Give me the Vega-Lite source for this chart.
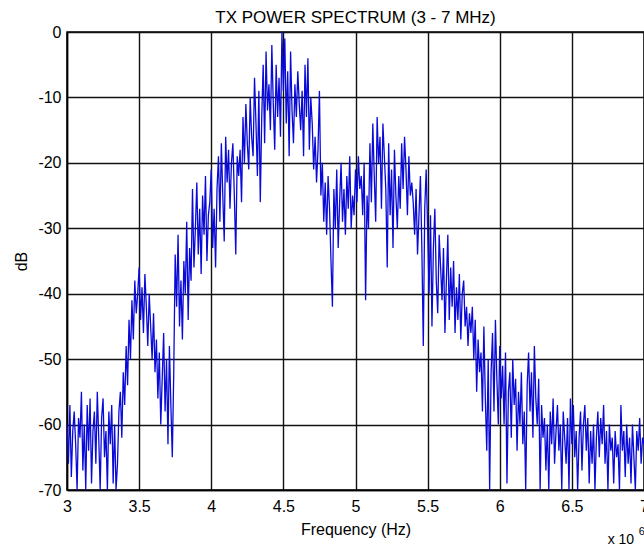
{
  "$schema": "https://vega.github.io/schema/vega-lite/v6.json",
  "width": 577,
  "height": 458,
  "autosize": {"type": "none"},
  "padding": {"left": 67, "top": 32, "right": 0, "bottom": 56},
  "background": "white",
  "title": {"text": "TX POWER SPECTRUM (3 - 7 MHz)", "font": "Liberation Sans", "fontSize": 17, "fontWeight": "normal", "color": "black", "anchor": "middle", "offset": -3},
  "config": {
    "view": {"stroke": "black", "strokeWidth": 1.5},
    "axis": {"labelFont": "Liberation Sans", "titleFont": "Liberation Sans", "labelFontSize": 16, "titleFontSize": 16, "labelColor": "black", "titleColor": "black", "titleFontWeight": "normal", "gridColor": "#111", "gridWidth": 1.4, "gridOpacity": 1, "domainColor": "black", "domainWidth": 1.5, "ticks": false, "labelFlush": false, "labelOverlap": false}
  },
  "layer": [
    {
      "data": {"values": [
{"f":3.00,"d":-60},{"f":3.01,"d":-66},{"f":3.02,"d":-57},{"f":3.03,"d":-68},{"f":3.04,"d":-61},{"f":3.05,"d":-58},{"f":3.06,"d":-63},{"f":3.07,"d":-70},{"f":3.08,"d":-59},{"f":3.09,"d":-62},
{"f":3.10,"d":-55},{"f":3.11,"d":-67},{"f":3.12,"d":-60},{"f":3.13,"d":-70},{"f":3.14,"d":-57},{"f":3.15,"d":-64},{"f":3.16,"d":-56},{"f":3.17,"d":-69},{"f":3.18,"d":-61},{"f":3.19,"d":-58},
{"f":3.20,"d":-66},{"f":3.21,"d":-55},{"f":3.22,"d":-62},{"f":3.23,"d":-70},{"f":3.24,"d":-59},{"f":3.25,"d":-56},{"f":3.26,"d":-65},{"f":3.27,"d":-61},{"f":3.28,"d":-70},{"f":3.29,"d":-58},
{"f":3.30,"d":-63},{"f":3.31,"d":-57},{"f":3.32,"d":-69},{"f":3.33,"d":-60},{"f":3.34,"d":-70},{"f":3.35,"d":-66},{"f":3.36,"d":-58},{"f":3.37,"d":-55},{"f":3.38,"d":-62},{"f":3.39,"d":-52},
{"f":3.40,"d":-57},{"f":3.41,"d":-48},{"f":3.42,"d":-54},{"f":3.43,"d":-44},{"f":3.44,"d":-50},{"f":3.45,"d":-41},{"f":3.46,"d":-47},{"f":3.47,"d":-38},{"f":3.48,"d":-43},{"f":3.49,"d":-40},
{"f":3.50,"d":-36},{"f":3.51,"d":-44},{"f":3.52,"d":-39},{"f":3.53,"d":-46},{"f":3.54,"d":-37},{"f":3.55,"d":-42},{"f":3.56,"d":-48},{"f":3.57,"d":-40},{"f":3.58,"d":-45},{"f":3.59,"d":-50},
{"f":3.60,"d":-43},{"f":3.61,"d":-52},{"f":3.62,"d":-47},{"f":3.63,"d":-56},{"f":3.64,"d":-49},{"f":3.65,"d":-60},{"f":3.66,"d":-53},{"f":3.67,"d":-46},{"f":3.68,"d":-58},{"f":3.69,"d":-50},
{"f":3.70,"d":-63},{"f":3.71,"d":-48},{"f":3.72,"d":-57},{"f":3.73,"d":-65},{"f":3.74,"d":-52},{"f":3.75,"d":-34},{"f":3.76,"d":-42},{"f":3.77,"d":-31},{"f":3.78,"d":-45},{"f":3.79,"d":-38},
{"f":3.80,"d":-47},{"f":3.81,"d":-35},{"f":3.82,"d":-40},{"f":3.83,"d":-29},{"f":3.84,"d":-44},{"f":3.85,"d":-33},{"f":3.86,"d":-38},{"f":3.87,"d":-24},{"f":3.88,"d":-36},{"f":3.89,"d":-30},
{"f":3.90,"d":-23},{"f":3.91,"d":-34},{"f":3.92,"d":-27},{"f":3.93,"d":-37},{"f":3.94,"d":-25},{"f":3.95,"d":-31},{"f":3.96,"d":-22},{"f":3.97,"d":-35},{"f":3.98,"d":-28},{"f":3.99,"d":-26},
{"f":4.00,"d":-21},{"f":4.01,"d":-33},{"f":4.02,"d":-27},{"f":4.03,"d":-36},{"f":4.04,"d":-24},{"f":4.05,"d":-19},{"f":4.06,"d":-29},{"f":4.07,"d":-17},{"f":4.08,"d":-25},{"f":4.09,"d":-32},
{"f":4.10,"d":-16},{"f":4.11,"d":-23},{"f":4.12,"d":-18},{"f":4.13,"d":-27},{"f":4.14,"d":-20},{"f":4.15,"d":-17},{"f":4.16,"d":-25},{"f":4.17,"d":-34},{"f":4.18,"d":-19},{"f":4.19,"d":-22},
{"f":4.20,"d":-18},{"f":4.21,"d":-26},{"f":4.22,"d":-13},{"f":4.23,"d":-20},{"f":4.24,"d":-11},{"f":4.25,"d":-17},{"f":4.26,"d":-21},{"f":4.27,"d":-10},{"f":4.28,"d":-16},{"f":4.29,"d":-19},
{"f":4.30,"d":-7},{"f":4.31,"d":-14},{"f":4.32,"d":-22},{"f":4.33,"d":-9},{"f":4.34,"d":-26},{"f":4.35,"d":-13},{"f":4.36,"d":-5},{"f":4.37,"d":-17},{"f":4.38,"d":-3},{"f":4.39,"d":-12},
{"f":4.40,"d":-8},{"f":4.41,"d":-15},{"f":4.42,"d":-2},{"f":4.43,"d":-11},{"f":4.44,"d":-18},{"f":4.45,"d":-5},{"f":4.46,"d":-13},{"f":4.47,"d":-7},{"f":4.48,"d":-16},{"f":4.49,"d":0},
{"f":4.50,"d":-9},{"f":4.51,"d":-1},{"f":4.52,"d":-14},{"f":4.53,"d":-6},{"f":4.54,"d":-19},{"f":4.55,"d":-3},{"f":4.56,"d":-12},{"f":4.57,"d":-17},{"f":4.58,"d":-8},{"f":4.59,"d":-13},
{"f":4.60,"d":-6},{"f":4.61,"d":-11},{"f":4.62,"d":-15},{"f":4.63,"d":-9},{"f":4.64,"d":-19},{"f":4.65,"d":-5},{"f":4.66,"d":-13},{"f":4.67,"d":-4},{"f":4.68,"d":-18},{"f":4.69,"d":-10},
{"f":4.70,"d":-14},{"f":4.71,"d":-21},{"f":4.72,"d":-16},{"f":4.73,"d":-23},{"f":4.74,"d":-18},{"f":4.75,"d":-9},{"f":4.76,"d":-25},{"f":4.77,"d":-20},{"f":4.78,"d":-29},{"f":4.79,"d":-23},
{"f":4.80,"d":-31},{"f":4.81,"d":-22},{"f":4.82,"d":-27},{"f":4.83,"d":-35},{"f":4.84,"d":-42},{"f":4.85,"d":-24},{"f":4.86,"d":-30},{"f":4.87,"d":-21},{"f":4.88,"d":-33},{"f":4.89,"d":-26},
{"f":4.90,"d":-20},{"f":4.91,"d":-29},{"f":4.92,"d":-24},{"f":4.93,"d":-31},{"f":4.94,"d":-22},{"f":4.95,"d":-27},{"f":4.96,"d":-19},{"f":4.97,"d":-30},{"f":4.98,"d":-25},{"f":4.99,"d":-28},
{"f":5.00,"d":-21},{"f":5.01,"d":-26},{"f":5.02,"d":-19},{"f":5.03,"d":-24},{"f":5.04,"d":-22},{"f":5.05,"d":-28},{"f":5.06,"d":-20},{"f":5.07,"d":-41},{"f":5.08,"d":-25},{"f":5.09,"d":-30},
{"f":5.10,"d":-17},{"f":5.11,"d":-26},{"f":5.12,"d":-14},{"f":5.13,"d":-22},{"f":5.14,"d":-29},{"f":5.15,"d":-13},{"f":5.16,"d":-20},{"f":5.17,"d":-16},{"f":5.18,"d":-27},{"f":5.19,"d":-14},
{"f":5.20,"d":-19},{"f":5.21,"d":-24},{"f":5.22,"d":-36},{"f":5.23,"d":-17},{"f":5.24,"d":-28},{"f":5.25,"d":-21},{"f":5.26,"d":-33},{"f":5.27,"d":-18},{"f":5.28,"d":-25},{"f":5.29,"d":-30},
{"f":5.30,"d":-22},{"f":5.31,"d":-27},{"f":5.32,"d":-17},{"f":5.33,"d":-24},{"f":5.34,"d":-16},{"f":5.35,"d":-21},{"f":5.36,"d":-28},{"f":5.37,"d":-19},{"f":5.38,"d":-25},{"f":5.39,"d":-23},
{"f":5.40,"d":-26},{"f":5.41,"d":-31},{"f":5.42,"d":-24},{"f":5.43,"d":-34},{"f":5.44,"d":-28},{"f":5.45,"d":-22},{"f":5.46,"d":-33},{"f":5.47,"d":-48},{"f":5.48,"d":-27},{"f":5.49,"d":-21},
{"f":5.50,"d":-30},{"f":5.51,"d":-40},{"f":5.52,"d":-28},{"f":5.53,"d":-45},{"f":5.54,"d":-33},{"f":5.55,"d":-27},{"f":5.56,"d":-38},{"f":5.57,"d":-43},{"f":5.58,"d":-31},{"f":5.59,"d":-36},
{"f":5.60,"d":-41},{"f":5.61,"d":-33},{"f":5.62,"d":-46},{"f":5.63,"d":-38},{"f":5.64,"d":-31},{"f":5.65,"d":-44},{"f":5.66,"d":-36},{"f":5.67,"d":-42},{"f":5.68,"d":-35},{"f":5.69,"d":-46},
{"f":5.70,"d":-39},{"f":5.71,"d":-44},{"f":5.72,"d":-37},{"f":5.73,"d":-47},{"f":5.74,"d":-40},{"f":5.75,"d":-38},{"f":5.76,"d":-45},{"f":5.77,"d":-42},{"f":5.78,"d":-48},{"f":5.79,"d":-43},
{"f":5.80,"d":-46},{"f":5.81,"d":-42},{"f":5.82,"d":-50},{"f":5.83,"d":-44},{"f":5.84,"d":-55},{"f":5.85,"d":-47},{"f":5.86,"d":-52},{"f":5.87,"d":-49},{"f":5.88,"d":-58},{"f":5.89,"d":-45},
{"f":5.90,"d":-56},{"f":5.91,"d":-64},{"f":5.92,"d":-50},{"f":5.93,"d":-70},{"f":5.94,"d":-52},{"f":5.95,"d":-46},{"f":5.96,"d":-58},{"f":5.97,"d":-44},{"f":5.98,"d":-53},{"f":5.99,"d":-60},
{"f":6.00,"d":-48},{"f":6.01,"d":-56},{"f":6.02,"d":-51},{"f":6.03,"d":-60},{"f":6.04,"d":-49},{"f":6.05,"d":-69},{"f":6.06,"d":-55},{"f":6.07,"d":-52},{"f":6.08,"d":-62},{"f":6.09,"d":-50},
{"f":6.10,"d":-57},{"f":6.11,"d":-53},{"f":6.12,"d":-64},{"f":6.13,"d":-55},{"f":6.14,"d":-60},{"f":6.15,"d":-52},{"f":6.16,"d":-63},{"f":6.17,"d":-58},{"f":6.18,"d":-70},{"f":6.19,"d":-54},
{"f":6.20,"d":-49},{"f":6.21,"d":-58},{"f":6.22,"d":-52},{"f":6.23,"d":-62},{"f":6.24,"d":-48},{"f":6.25,"d":-56},{"f":6.26,"d":-60},{"f":6.27,"d":-53},{"f":6.28,"d":-70},{"f":6.29,"d":-57},
{"f":6.30,"d":-62},{"f":6.31,"d":-59},{"f":6.32,"d":-67},{"f":6.33,"d":-60},{"f":6.34,"d":-70},{"f":6.35,"d":-58},{"f":6.36,"d":-63},{"f":6.37,"d":-56},{"f":6.38,"d":-66},{"f":6.39,"d":-61},
{"f":6.40,"d":-57},{"f":6.41,"d":-64},{"f":6.42,"d":-60},{"f":6.43,"d":-70},{"f":6.44,"d":-58},{"f":6.45,"d":-62},{"f":6.46,"d":-66},{"f":6.47,"d":-59},{"f":6.48,"d":-70},{"f":6.49,"d":-56},
{"f":6.50,"d":-63},{"f":6.51,"d":-57},{"f":6.52,"d":-65},{"f":6.53,"d":-61},{"f":6.54,"d":-70},{"f":6.55,"d":-62},{"f":6.56,"d":-58},{"f":6.57,"d":-67},{"f":6.58,"d":-60},{"f":6.59,"d":-57},
{"f":6.60,"d":-64},{"f":6.61,"d":-59},{"f":6.62,"d":-69},{"f":6.63,"d":-61},{"f":6.64,"d":-66},{"f":6.65,"d":-60},{"f":6.66,"d":-70},{"f":6.67,"d":-62},{"f":6.68,"d":-58},{"f":6.69,"d":-65},
{"f":6.70,"d":-59},{"f":6.71,"d":-63},{"f":6.72,"d":-57},{"f":6.73,"d":-66},{"f":6.74,"d":-61},{"f":6.75,"d":-70},{"f":6.76,"d":-60},{"f":6.77,"d":-64},{"f":6.78,"d":-62},{"f":6.79,"d":-69},
{"f":6.80,"d":-61},{"f":6.81,"d":-65},{"f":6.82,"d":-63},{"f":6.83,"d":-70},{"f":6.84,"d":-57},{"f":6.85,"d":-64},{"f":6.86,"d":-61},{"f":6.87,"d":-68},{"f":6.88,"d":-60},{"f":6.89,"d":-66},
{"f":6.90,"d":-62},{"f":6.91,"d":-69},{"f":6.92,"d":-60},{"f":6.93,"d":-65},{"f":6.94,"d":-70},{"f":6.95,"d":-61},{"f":6.96,"d":-64},{"f":6.97,"d":-59},{"f":6.98,"d":-66},{"f":6.99,"d":-62},
{"f":7.00,"d":-63}
      ]},
      "mark": {"type": "line", "color": "#0a0ad8", "strokeWidth": 1.3, "clip": true},
      "encoding": {
        "x": {"field": "f", "type": "quantitative", "scale": {"domain": [3, 7], "nice": false, "zero": false},
          "axis": {"values": [3, 3.5, 4, 4.5, 5, 5.5, 6, 6.5, 7], "labelExpr": "'' + datum.value", "grid": true, "labelPadding": 8, "title": "Frequency (Hz)", "titlePadding": 7}},
        "y": {"field": "d", "type": "quantitative", "scale": {"domain": [-70, 0], "nice": false, "zero": false},
          "axis": {"values": [-70, -60, -50, -40, -30, -20, -10, 0], "labelExpr": "'' + datum.value", "grid": true, "labelPadding": 6, "title": "dB", "titlePadding": 8}}
      }
    },
    {
      "data": {"values": [{"label": "x 10"}]},
      "mark": {"type": "text", "font": "Liberation Sans", "fontSize": 14, "color": "black", "align": "center", "baseline": "alphabetic", "dy": 54},
      "encoding": {
        "x": {"datum": 6.84, "type": "quantitative"},
        "y": {"datum": -70, "type": "quantitative"},
        "text": {"field": "label"}
      }
    },
    {
      "data": {"values": [{"label": "6"}]},
      "mark": {"type": "text", "font": "Liberation Sans", "fontSize": 11, "color": "black", "align": "center", "baseline": "alphabetic", "dy": 45},
      "encoding": {
        "x": {"datum": 6.985, "type": "quantitative"},
        "y": {"datum": -70, "type": "quantitative"},
        "text": {"field": "label"}
      }
    }
  ]
}
